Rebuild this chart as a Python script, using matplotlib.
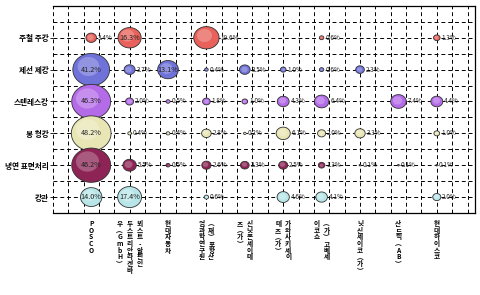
import numpy as np
import matplotlib.pyplot as plt
import matplotlib.colors as mcolors
from matplotlib.path import Path
from matplotlib.transforms import ScaledTranslation

plt.rcParams['font.family'] = ['Noto Sans CJK KR', 'DejaVu Sans']

# companies (x axis), "\n" marks where the vertical label wraps to a new column
companies = ["POSCO", "뵈스트-알핀인\n두스트리안라겐바\n우(GmbH)", "현대자동차",
             "(재)포항산\n업과학연구원", "신닛폰세이테\n츠(가)", "가와사키세이\n테츠(가)",
             "(가)고베세\n이코쇼", "닛신세이코(가)", "산드빅(AB)", "현대하이스코"]

# product fields (y axis, top to bottom)
fields = ["주철 주강", "제선 제강", "스텐레스강", "봉 형강", "냉연 표면처리", "강관"]
colors = ["#E8615A", "#6F72D8", "#B46BE8", "#E9E6B5", "#8E2456", "#B8E6E8"]

nan = np.nan
share_1 = [3.4, 16.3, nan, 19.6, nan, nan, 0.6, nan, nan, 1.3]
share_2 = [41.2, 3.7, 13.1, 0.4, 3.5, 1.0, 0.6, 2.3, nan, nan]
share_3 = [46.3, 2.0, 0.5, 1.8, 1.0, 4.3, 6.4, nan, 7.4, 4.4]
share_4 = [48.2, 0.4, 0.4, 2.8, 0.2, 6.1, 2.0, 3.3, nan, 1.0]
share_5 = [46.2, 5.5, 0.5, 2.6, 2.3, 2.5, 1.3, 0.1, 0.1, 0.1]
share_6 = [14.0, 17.4, nan, 0.6, nan, 4.6, 4.1, nan, nan, 2.0]
shares = [share_1, share_2, share_3, share_4, share_5, share_6]

K = 17  # marker area per percent

# slightly flattened bubble marker
t = np.linspace(0, 2 * np.pi, 60)
ell = Path(np.column_stack([np.cos(t), 0.88 * np.sin(t)]))

fig = plt.figure(figsize=(4.8, 2.95), dpi=100)
ax = fig.add_axes([0.110, 0.278, 0.880, 0.702])
ax.set_xlim(0, 11)
ax.set_ylim(0.5, 7)

# dashed grid
for gx in np.arange(0, 11, 0.4):
    ax.axvline(gx, color="black", lw=0.7, ls=(0, (4, 3)), zorder=1)
for gy in np.arange(1, 7, 0.5):
    ax.axhline(gy, color="black", lw=0.7, ls=(0, (4, 3)), zorder=1)

xs = np.arange(1, len(companies) + 1)
for i, row in enumerate(shares):
    y = len(fields) - i
    v = np.array(row)
    ok = ~np.isnan(v)
    base = np.array(mcolors.to_rgb(colors[i]))
    light = base + (1 - base) * 0.45
    ax.scatter(xs[ok], np.full(ok.sum(), y), s=K * v[ok], marker=ell,
               c=colors[i], edgecolors="#303030", linewidths=0.6, zorder=3)
    for j in np.where(ok)[0]:
        r = np.sqrt(K * v[j]) / 2
        # soft highlight, a bit up and left
        sh = ScaledTranslation(-r * 0.2 / 72, r * 0.2 / 72, fig.dpi_scale_trans)
        ax.scatter([xs[j]], [y], s=K * v[j] * 0.35, marker=ell, c=[light],
                   alpha=0.55, linewidths=0, zorder=3.5, transform=ax.transData + sh)
        txt = "%.1f%%" % v[j]
        if v[j] >= 10 and j < 3:
            ax.text(xs[j], y, txt, ha="center", va="center", fontsize=5.2,
                    color="#222222", zorder=4)
        else:
            ax.annotate(txt, (xs[j], y), xytext=(r + 1, 0), textcoords="offset points",
                        ha="left", va="center", fontsize=4.6, color="#222222", zorder=4)

# y labels
ax.set_yticks(np.arange(len(fields), 0, -1))
ax.set_yticklabels(fields, fontsize=5.5, fontweight="bold")
ax.tick_params(axis="y", direction="out", length=2, width=0.6, pad=1)
ax.set_xticks([])

# vertical stacked company labels
for x, name in zip(xs, companies):
    segs = name.split("\n")
    n = len(segs)
    for k, seg in enumerate(segs):
        seg = seg.replace("(", "︵").replace(")", "︶")
        dx = ((n - 1) / 2 - k) * 7.2
        ax.annotate("\n".join(seg), (x, 0), xycoords=("data", "axes fraction"),
                    xytext=(dx, -5), textcoords="offset points", ha="center", va="top",
                    fontsize=4.8, fontweight="bold", linespacing=0.95)

ax.spines["left"].set_visible(False)
for s in ["top", "right", "bottom"]:
    ax.spines[s].set_linewidth(0.9)

fig.savefig("out.png", dpi=100)
